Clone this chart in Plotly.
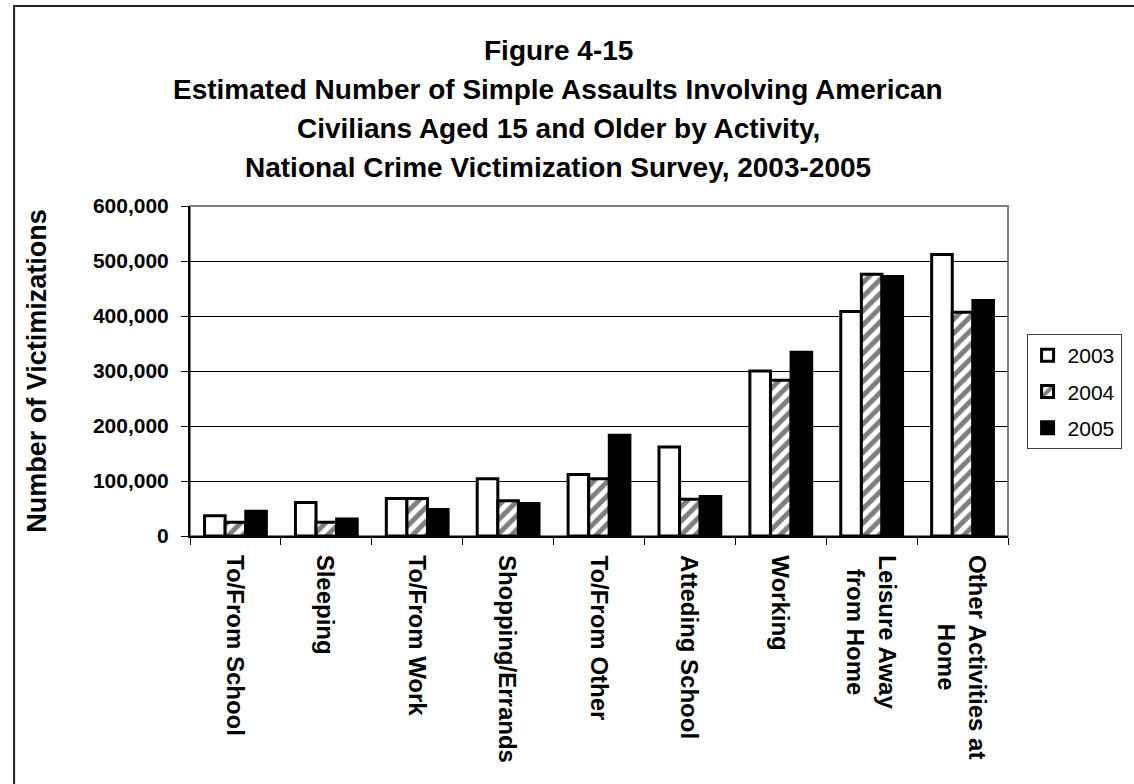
import plotly.graph_objects as go

# Activity categories (x axis) and victimization counts per survey year
categories = [
    "To/From School", "Sleeping", "To/From Work", "Shopping/Errands",
    "To/From Other", "Atteding School", "Working",
    "Leisure Away<br>from Home", "Other Activities at<br>Home",
]
years = ["2003", "2004", "2005"]
values_2003 = [37000, 61000, 68000, 104000, 112000, 162000, 300000, 408000, 512000]
values_2004 = [25000, 25000, 68000, 64000, 104000, 67000, 283000, 476000, 407000]
values_2005 = [45000, 31000, 48000, 59000, 183000, 72000, 334000, 472000, 428000]
y_ticks = [0, 100000, 200000, 300000, 400000, 500000, 600000]
title_lines = [
    "Figure 4-15",
    "Estimated Number of Simple Assaults Involving American",
    "Civilians Aged 15 and Older by Activity,",
    "National Crime Victimization Survey, 2003-2005",
]

FONT = "Liberation Sans, Arial, sans-serif"
W, H = 1134, 784
L, R, T, B = 190, 107, 206, 248
PW, PH = W - L - R, H - T - B

series = [
    (years[0], values_2003, dict(color="white")),
    (years[1], values_2004, dict(color="white",
                                 pattern=dict(shape="/", fgcolor="black", bgcolor="white",
                                              size=10, solidity=0.5))),
    (years[2], values_2005, dict(color="black")),
]

fig = go.Figure()
for name, vals, mk in series:
    fig.add_trace(go.Bar(
        name=name, x=categories, y=vals,
        marker=dict(**mk, line=dict(color="black", width=3)),
        legendgroup=name,
    ))

fig.update_layout(
    width=W, height=H,
    margin=dict(l=L, r=R, t=T, b=B),
    paper_bgcolor="white", plot_bgcolor="white",
    barmode="group", bargap=0.32, bargroupgap=0,
    font=dict(family=FONT, color="black", size=20),
    legend=dict(
        x=(1046 - L) / PW, xanchor="left", y=(H - B - 334) / PH, yanchor="top",
        bordercolor="#404040", borderwidth=1, bgcolor="white",
        font=dict(family=FONT, size=21, color="black"),
        tracegroupgap=6, itemwidth=30,
    ),
    showlegend=True,
)

# Four centred title lines
for i, line in enumerate(title_lines):
    fig.add_annotation(
        text=f"<b>{line}</b>", xref="paper", yref="paper",
        x=(567 - L) / PW, y=(H - B - (50 + 39 * i)) / PH,
        xanchor="center", yanchor="middle", showarrow=False,
        font=dict(family=FONT, size=28, color="black"),
    )

# Vertical category labels under each group
for cat in categories:
    fig.add_annotation(
        text=f"<b>{cat}</b>", x=cat, xref="x", y=0, yref="paper",
        xanchor="center", yanchor="top", yshift=-17, textangle=90,
        align="center", showarrow=False,
        font=dict(family=FONT, size=24, color="black"),
    )

fig.update_yaxes(
    range=[0, 600000], tickvals=y_ticks, tickformat=",",
    tickfont=dict(family=FONT, size=21, weight="bold"),
    ticklabelstandoff=8,
    showgrid=True, gridcolor="black", gridwidth=1,
    showline=True, linecolor="black", linewidth=2,
    ticks="outside", ticklen=7, tickcolor="black", tickwidth=1,
    zeroline=False,
    title=dict(text="Number of Victimizations",
               font=dict(family=FONT, size=27, weight="bold"), standoff=38),
)
fig.update_xaxes(
    type="category", showticklabels=False, tickson="boundaries",
    showline=True, linecolor="black", linewidth=2,
    ticks="outside", ticklen=7, tickcolor="black", tickwidth=1,
    showgrid=False,
)

# Plot-area frame (grey top/right) and the outer chart frame
fig.add_shape(type="rect", xref="paper", yref="paper", x0=0, y0=0, x1=1, y1=1,
              line=dict(color="#808080", width=2), layer="below")
fig.add_shape(type="rect", xref="paper", yref="paper",
              x0=(10 - L) / PW, y0=(H - B - 800) / PH,
              x1=(1160 - L) / PW, y1=(H - B - 6) / PH,
              line=dict(color="#202020", width=2), layer="below")

fig.write_html("out.html")
